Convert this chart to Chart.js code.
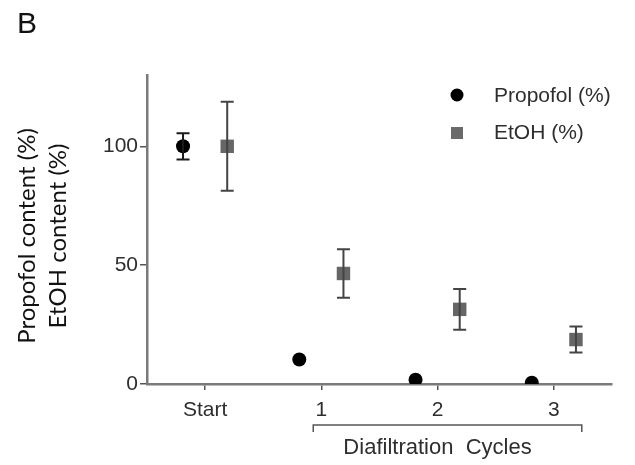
<!DOCTYPE html>
<html>
<head>
<meta charset="utf-8">
<script src="https://cdn.jsdelivr.net/npm/chart.js@4"></script>
<style>
  html, body { margin: 0; padding: 0; background: #fff; }
  #wrap { width: 635px; height: 465px; position: relative; }
</style>
</head>
<body>
<div id="wrap"><canvas id="scatterChart"></canvas></div>
<script>
// data
const categories = ['Start', '1', '2', '3'];
const propofolMean = [100, 10.3, 1.8, 0.5];
const propofolErr = [5.5, 0, 0, 0];
const etohMean = [100, 46.5, 31.4, 18.7];
const etohErr = [18.7, 10.2, 8.6, 5.5];
const yTicks = [0, 50, 100];
const bracketLabel = 'Diafiltration  Cycles';

const axisGrey = '#7a7a7a';
const textGrey = '#2e2e2e';

function toPoints(vals, errs, shift){
    return vals.map((v, i) => ({x: i + shift, y: v, err: errs[i]}));
}

// error bars, bracket, panel letter, axis title and legend
const extras = {
    id: 'extras',
    afterDatasetsDraw(chart){
        const ctx = chart.ctx;
        const xs = chart.scales.x, ys = chart.scales.y;
        ctx.save();
        chart.data.datasets.forEach(ds => {
            ctx.strokeStyle = ds.errColor;
            ctx.lineWidth = 2;
            ds.data.forEach(p => {
                if (!p.err) return;
                const px = xs.getPixelForValue(p.x);
                const top = ys.getPixelForValue(p.y + p.err);
                const bot = ys.getPixelForValue(p.y - p.err);
                ctx.beginPath();
                ctx.moveTo(px, top); ctx.lineTo(px, bot);
                ctx.moveTo(px - 6.5, top); ctx.lineTo(px + 6.5, top);
                ctx.moveTo(px - 6.5, bot); ctx.lineTo(px + 6.5, bot);
                ctx.stroke();
            });
        });

        // bracket under cycles 1..3
        const bl = xs.getPixelForValue(0.93), br = xs.getPixelForValue(3.24);
        const by = 425;
        ctx.strokeStyle = '#555';
        ctx.lineWidth = 1.5;
        ctx.beginPath();
        ctx.moveTo(bl, by + 7); ctx.lineTo(bl, by); ctx.lineTo(br, by); ctx.lineTo(br, by + 7);
        ctx.stroke();
        ctx.fillStyle = textGrey;
        ctx.font = '22px "Liberation Sans", Arial, sans-serif';
        ctx.textAlign = 'center';
        ctx.textBaseline = 'middle';
        ctx.fillText(bracketLabel, (bl + br) / 2 - 10, 448);

        // panel letter
        ctx.fillStyle = '#111';
        ctx.font = '30px "Liberation Sans", Arial, sans-serif';
        ctx.textAlign = 'left';
        ctx.textBaseline = 'alphabetic';
        ctx.fillText('B', 17, 33);

        // y title, two lines
        ctx.save();
        ctx.translate(27, 236);
        ctx.rotate(-Math.PI / 2);
        ctx.font = '24px Lato, sans-serif';
        ctx.textAlign = 'center';
        ctx.textBaseline = 'middle';
        ctx.fillStyle = '#111';
        ctx.fillText('Propofol content (%)', 0, 0);
        ctx.fillText('EtOH content (%)', 0, 31);
        ctx.restore();

        // legend
        ctx.font = '21px "Liberation Sans", Arial, sans-serif';
        ctx.textAlign = 'left';
        ctx.textBaseline = 'middle';
        ctx.fillStyle = textGrey;
        ctx.fillText('Propofol (%)', 494, 96);
        ctx.fillText('EtOH (%)', 494, 133);
        ctx.fillStyle = '#000';
        ctx.beginPath(); ctx.arc(457, 95, 6.5, 0, Math.PI * 2); ctx.fill();
        ctx.fillStyle = '#6a6a6a';
        ctx.fillRect(451, 127, 12, 12);
        ctx.restore();
    }
};

let scatterChart;
function initializeChart(){
    const data = {
        datasets: [
            {
                label: 'Propofol (%)',
                data: toPoints(propofolMean, propofolErr, -0.19),
                pointStyle: 'circle',
                pointRadius: 7,
                backgroundColor: '#000',
                borderColor: '#000',
                borderWidth: 0,
                errColor: '#1a1a1a'
            },
            {
                label: 'EtOH (%)',
                data: toPoints(etohMean, etohErr, 0.19),
                pointStyle: 'rect',
                pointRadius: 9.5,
                backgroundColor: '#666',
                borderColor: '#666',
                borderWidth: 0,
                errColor: '#444'
            }
        ]
    };
    const options = {
        responsive: true,
        maintainAspectRatio: false,
        animation: false,
        layout: { padding: { left: 0, right: 23, top: 75, bottom: 0 } },
        plugins: { legend: { display: false }, tooltip: { enabled: false } },
        scales: {
            x: {
                type: 'linear',
                min: -0.5,
                max: 3.5,
                afterBuildTicks: s => { s.ticks = categories.map((c, i) => ({value: i})); },
                afterFit: s => { s.height = 81; },
                border: { color: axisGrey, width: 2.5 },
                grid: { display: true, drawOnChartArea: false, drawTicks: true, tickLength: 6, color: '#555', lineWidth: 1.5 },
                ticks: {
                    color: textGrey,
                    padding: 8,
                    font: { family: '"Liberation Sans", Arial, sans-serif', size: 21 },
                    callback: v => categories[v]
                }
            },
            y: {
                min: 0,
                max: 130,
                afterBuildTicks: s => { s.ticks = yTicks.map(v => ({value: v})); },
                afterFit: s => { s.width = 147; },
                border: { color: axisGrey, width: 2.5 },
                grid: { display: true, drawOnChartArea: false, drawTicks: true, tickLength: 7, color: '#555', lineWidth: 1.5 },
                ticks: {
                    color: textGrey,
                    padding: 2,
                    font: { family: '"Liberation Sans", Arial, sans-serif', size: 21 }
                }
            }
        }
    };
    scatterChart = new Chart(document.getElementById('scatterChart'), {
        type: 'scatter',
        data: data,
        options: options,
        plugins: [extras]
    });
}
document.addEventListener("DOMContentLoaded", function () {
    initializeChart();
});
</script>
</body>
</html>
